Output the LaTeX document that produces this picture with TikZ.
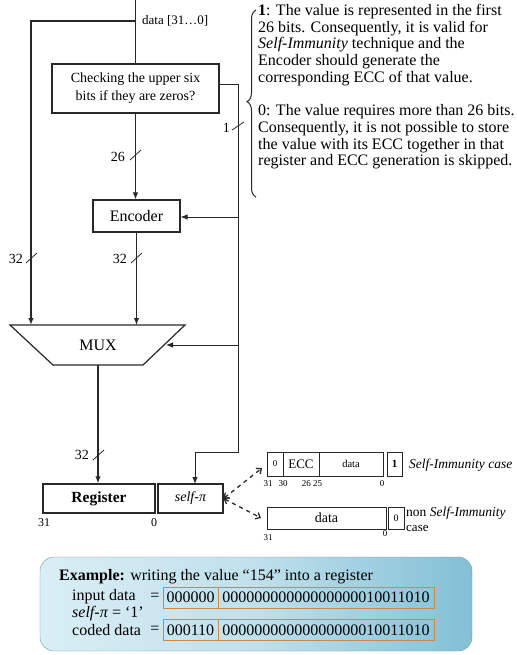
\documentclass[tikz,border=0pt]{standalone}
\usepackage{fontspec}
\setmainfont{Liberation Serif}
\usetikzlibrary{arrows.meta,decorations.pathreplacing,calc}
\newcommand{\fsz}[1]{\fontsize{#1}{#1}\selectfont}
\definecolor{wirecol}{RGB}{40,40,40}
\definecolor{obrd}{RGB}{205,135,70}
\definecolor{exlight}{RGB}{218,238,245}
\definecolor{exdark}{RGB}{130,192,214}
\tikzset{
  wire/.style={draw=wirecol, line width=1.1pt},
  arr/.style={wire, -{Latex[length=7pt,width=5.5pt]}},
  blk/.style={draw=wirecol, line width=1.2pt, fill=white, inner sep=0pt},
  buslbl/.style={font=\fsz{14}, inner sep=1pt, anchor=east},
  cell/.style={draw=wirecol, line width=1pt, inner sep=0pt, minimum height=24},
  bitlbl/.style={font=\fsz{9}, inner sep=0pt},
  obox/.style={draw=obrd, line width=1pt, inner sep=0pt, minimum height=21, font=\fsz{16}},
  extxt/.style={font=\fsz{16}, inner sep=0pt, anchor=west},
  dsh/.style={draw=wirecol, line width=1.3pt, dash pattern=on 4pt off 4pt, {Straight Barb[length=4pt,width=7pt]}-{Straight Barb[length=4pt,width=7pt]}},
}
\begin{document}
\begin{tikzpicture}[x=1pt,y=-1pt]
\clip (0,0) rectangle (516,655);
\fill[white] (0,0) rectangle (516,655);

% checking box
\node[blk, minimum width=167, minimum height=49, align=center, font=\fontsize{14}{18}\selectfont] (chk) at (135.5,88.5) {Checking the upper six\\bits if they are zeros?};
\coordinate (top) at (135.5,0);
\coordinate (split) at (135.5,21);
\draw[wire] (top) -- (chk.north);
\node[font=\fsz{13}, inner sep=0pt, anchor=west] (dlbl) at (142,21) {data [31…0]};

% encoder, mux
\node[blk, minimum width=87, minimum height=32, font=\fsz{16}] (enc) at (136.5,216) {Encoder};
\draw[blk] (10,325) -- (185,325) -- (143,365) -- (53,365) -- cycle;
\node[font=\fsz{16}, inner sep=0pt] (mux) at (98,345) {MUX};
\coordinate (muxL) at (31,325);
\coordinate (muxC) at (136.5,325);
\coordinate (muxR) at (166,345);
\coordinate (muxB) at (98,365);

% register and self-pi
\node[blk, minimum width=112, minimum height=29, font=\bfseries\fsz{15.5}] (reg) at (99,498.5) {Register};
\node[blk, minimum width=65, minimum height=29, font=\itshape\fsz{14}] (sp) at (190.5,498.5) {self-π};
\node[font=\fsz{12}, inner sep=0pt] (r31) at (44,523) {31};
\node[font=\fsz{12}, inner sep=0pt] (r0) at (154,523) {0};

% wires
\draw[arr, line width=1.5pt] (split) -| (muxL);
\draw[arr] (chk.south) -- (chk.south |- enc.north);
\coordinate (chkout) at ($(chk.east)+(0,-4.5)$);
\coordinate (rtB) at (238,452);
\coordinate (spin) at (195,484);
\coordinate (rtE) at (238,217);
\coordinate (rtM) at (238,345);
\draw[arr, line width=0.9pt] (chkout) -| (rtB) -| (spin);
\draw[arr, line width=0.9pt] (rtE) -- (enc.east |- rtE);
\draw[arr, line width=0.9pt] (rtM) -- (muxR);
\draw[arr] (enc.south) -- (muxC);
\draw[arr, line width=2.4pt] (muxB) -- (muxB |- reg.north);

% bus width marks
\draw[wire, line width=0.8pt] (130,160) -- (141,150);
\node[buslbl] (b26) at (126,157) {26};
\draw[wire, line width=0.8pt] (26,263) -- (37,253);
\node[buslbl] (b32a) at (24,259) {32};
\draw[wire, line width=0.8pt] (131,263) -- (142,253);
\node[buslbl] (b32b) at (128,259) {32};
\draw[wire, line width=0.8pt] (93,460) -- (104,450);
\node[buslbl] (b32c) at (90,455) {32};
\draw[wire, line width=0.8pt] (232,130) -- (244,122);
\node[buslbl] (b1) at (231,128) {1};

% brace and explanation
\draw[wirecol, line width=1pt, decorate, decoration={brace, amplitude=9pt, aspect=0.51}] (256,197) -- (256,10);
\node[anchor=north west, align=left, inner sep=0pt, font=\fontsize{16}{16.7}\selectfont] (expl) at (258,4)
{\textbf{1}: The value is represented in the first\\
26 bits. Consequently, it is valid for\\
\textit{Self-Immunity} technique and the\\
Encoder should generate the\\
corresponding ECC of that value.\\[16.7pt]
0: The value requires more than 26 bits.\\
Consequently, it is not possible to store\\
the value with its ECC together in that\\
register and ECC generation is skipped.};

% self-immunity layout
\node[cell, minimum width=16, font=\fsz{9}] (c0) at (275,464) {0};
\node[cell, minimum width=36, font=\fsz{13}] (ecc) at (301,464) {ECC};
\node[cell, minimum width=64, font=\fsz{10.5}] (dA) at (351,464) {data};
\node[cell, minimum width=15, font=\bfseries\fsz{11}] (one) at (394.5,464) {1};
\node[font=\itshape\fsz{13.5}, inner sep=0pt, anchor=west] (sic) at (409,465) {Self-Immunity case};
\node[bitlbl] (u31) at (268,484) {31};
\node[bitlbl] (u30) at (283,484) {30};
\node[bitlbl] (u26) at (312,484) {26 25};
\node[bitlbl] (u0) at (382,484) {0};

% non self-immunity layout
\node[cell, minimum width=119, minimum height=22, font=\fsz{14}] (dB) at (326.5,518) {data};
\node[cell, minimum width=16, minimum height=22, font=\fsz{10}] (zB) at (396,518) {0};
\node[font=\fsz{13.5}, inner sep=0pt, anchor=west] (nsi) at (406,513) {non \textit{Self-Immunity}};
\node[font=\fsz{13}, inner sep=0pt, anchor=west] (nsc) at (406,528) {case};
\node[bitlbl] (l31) at (268,538) {31};
\node[bitlbl] (l0) at (385,534) {0};

% dashed connectors
\coordinate (upT) at (262,468);
\coordinate (lowT) at (261,518);
\draw[dsh] (sp.east) -- (upT);
\draw[dsh] (sp.east) -- (lowT);

% example box
\node[rounded corners=14pt, minimum width=432, minimum height=94, left color=exlight, right color=exdark, middle color=exlight!70!exdark, draw=exdark!80!black, line width=0.4pt] (ex) at (256,604) {};
\node[extxt] (ext) at (59,577) {\textbf{Example:} writing the value “154” into a register};
\node[extxt] (inl) at (72,597) {input data};
\node[font=\fsz{16}, inner sep=0pt] (eq1) at (155,597) {=};
\node[obox, minimum width=55] (bx1) at (190.5,597.5) {000000};
\node[obox, minimum width=216] (bx2) at (326,597.5) {00000000000000000010011010};
\node[extxt] (spl) at (72,614) {\textit{self-π} = ‘1’};
\node[extxt] (cdl) at (72,630) {coded data};
\node[font=\fsz{16}, inner sep=0pt] (eq2) at (155,630) {=};
\node[obox, minimum width=55] (bx3) at (190.5,630) {000110};
\node[obox, minimum width=216] (bx4) at (326,630) {00000000000000000010011010};
\end{tikzpicture}
\end{document}
